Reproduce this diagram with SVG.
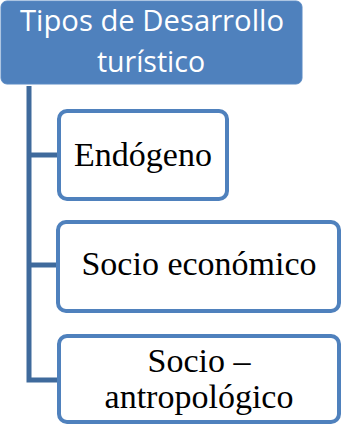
<svg xmlns="http://www.w3.org/2000/svg" width="342" height="427" viewBox="0 0 342 427">
<style>
.box{fill:#ffffff;stroke:#4F81BD;stroke-width:4}
.lbl{font-family:"Liberation Serif","Times New Roman",serif;font-size:34px;fill:#000;text-anchor:middle}
.conn{fill:none;stroke:#3F6A9C;stroke-width:5}
.hdr{font-family:"Open Sans","Liberation Sans",sans-serif;font-size:28.5px;fill:#ffffff;text-anchor:middle}
</style>
<g id="connectors">
<path class="conn" d="M29,86 V380 H58"/>
<path class="conn" d="M29,155 H58"/>
<path class="conn" d="M29,265 H58"/>
</g>
<g id="root">
<rect x="1" y="1" width="301" height="83" rx="6" fill="#4F81BD" stroke="#5A8AC4" stroke-width="1"/>
<text class="hdr" x="152" y="31" textLength="264" lengthAdjust="spacingAndGlyphs">Tipos de Desarrollo</text>
<text class="hdr" x="151" y="72">turístico</text>
</g>
<g id="endogeno">
<rect class="box" x="59" y="111" width="168" height="88" rx="8"/>
<text class="lbl" x="143" y="166">Endógeno</text>
</g>
<g id="socioeconomico">
<rect class="box" x="58" y="222" width="281" height="89" rx="8"/>
<text class="lbl" x="199" y="275">Socio económico</text>
</g>
<g id="socioantropologico">
<rect class="box" x="59" y="336" width="280" height="86" rx="8"/>
<text class="lbl" x="199" y="372">Socio –</text>
<text class="lbl" x="199" y="408">antropológico</text>
</g>
</svg>
